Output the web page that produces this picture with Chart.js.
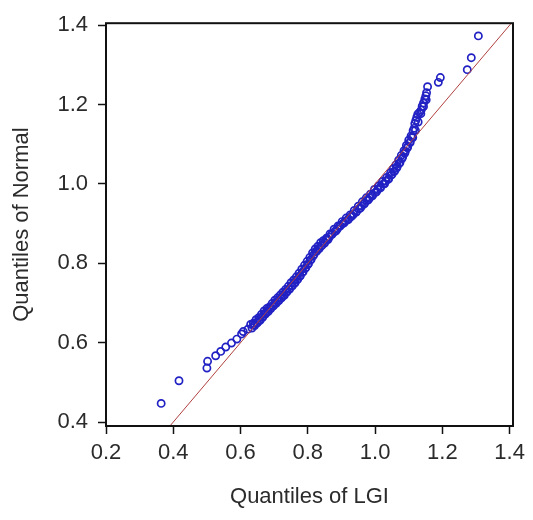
<!DOCTYPE html>
<html>
<head>
<meta charset="utf-8">
<script src="https://cdn.jsdelivr.net/npm/chart.js@4.4.0/dist/chart.umd.min.js"></script>
<style>
  body { margin: 0; background: #fff; }
  #wrap { width: 533px; height: 520px; }
</style>
</head>
<body>
<div id="wrap"><canvas id="myChart" width="533" height="520"></canvas></div>
<script>
// Datos (cuantiles LGI vs cuantiles normales)

let lgi = [
  0.364, 0.417, 0.500, 0.502, 0.526, 0.541, 0.556, 0.573, 0.589, 0.603,
  0.608, 0.622,
  0.630, 0.634, 0.638, 0.642, 0.646, 0.650, 0.654, 0.658, 0.662, 0.666,
  0.670, 0.674, 0.678, 0.682, 0.686, 0.690, 0.694, 0.698, 0.702, 0.706,
  0.710, 0.714, 0.718, 0.722, 0.726, 0.730, 0.734, 0.738, 0.742, 0.746,
  0.750, 0.754, 0.758, 0.762, 0.766, 0.770, 0.774, 0.778, 0.782, 0.786,
  0.790, 0.794, 0.798, 0.802, 0.806, 0.810, 0.814, 0.818, 0.822, 0.826,
  0.830, 0.834, 0.838, 0.842, 0.846, 0.850, 0.855, 0.860, 0.866, 0.872,
  0.878, 0.884, 0.890, 0.896, 0.902, 0.908, 0.914, 0.920, 0.926, 0.932,
  0.938, 0.944, 0.950, 0.956, 0.962, 0.968, 0.974, 0.980, 0.986, 0.992,
  0.998, 1.004, 1.010, 1.016, 1.022, 1.028, 1.034, 1.040, 1.046, 1.050,
  1.054, 1.058, 1.062, 1.066, 1.070, 1.074, 1.078, 1.082, 1.086, 1.090,
  1.093, 1.097, 1.100, 1.104, 1.107, 1.110, 1.113, 1.116, 1.118, 1.121,
  1.124, 1.127, 1.132, 1.137, 1.140, 1.144, 1.148, 1.151, 1.153, 1.156,
  1.188, 1.194, 1.274, 1.286, 1.307
];

let normal = [
  0.447, 0.504, 0.536, 0.553, 0.567, 0.578, 0.589, 0.599, 0.609, 0.622,
  0.628, 0.634,
  0.646, 0.637, 0.649, 0.643, 0.658, 0.650, 0.663, 0.656, 0.671, 0.664,
  0.680, 0.672, 0.686, 0.678, 0.690, 0.686, 0.699, 0.693, 0.707, 0.699,
  0.713, 0.706, 0.720, 0.713, 0.727, 0.719, 0.734, 0.728, 0.742, 0.735,
  0.751, 0.743, 0.758, 0.751, 0.766, 0.760, 0.775, 0.769, 0.785, 0.779,
  0.795, 0.789, 0.805, 0.799, 0.815, 0.810, 0.826, 0.822, 0.836, 0.830,
  0.843, 0.837, 0.852, 0.845, 0.857, 0.851, 0.863, 0.860, 0.874, 0.874,
  0.886, 0.882, 0.894, 0.895, 0.905, 0.902, 0.914, 0.910, 0.922, 0.920,
  0.933, 0.929, 0.944, 0.939, 0.955, 0.950, 0.965, 0.960, 0.974, 0.970,
  0.986, 0.980, 0.995, 0.990, 1.006, 1.000, 1.016, 1.012, 1.028, 1.024,
  1.038, 1.032, 1.048, 1.044, 1.060, 1.054, 1.072, 1.068, 1.084, 1.082,
  1.097, 1.094, 1.110, 1.106, 1.121, 1.118, 1.134, 1.140, 1.152, 1.160,
  1.168, 1.176, 1.180, 1.186, 1.196, 1.204, 1.214, 1.222, 1.230, 1.245,
  1.256, 1.268, 1.288, 1.318, 1.373
];

// puntos del centro de la banda densa (se superponen)
let lgiCentro = [
  0.640, 0.648, 0.656, 0.664, 0.672, 0.680, 0.688, 0.696, 0.704, 0.712,
  0.720, 0.728, 0.736, 0.744, 0.752, 0.760, 0.768, 0.776, 0.784, 0.792,
  0.800, 0.808, 0.816, 0.824, 0.832, 0.840, 0.848, 0.856, 0.864, 0.872,
  0.880, 0.888, 0.896, 0.904, 0.912, 0.920, 0.928, 0.936, 0.944, 0.952,
  0.960, 0.968, 0.976, 0.984, 0.992, 1.000, 1.008, 1.016, 1.024, 1.032,
  1.040, 1.048, 1.056, 1.064, 1.072, 1.080, 1.088, 1.096, 1.104, 1.112,
  1.120, 1.128, 1.136, 1.144, 1.152
];

let normalCentro = [
  0.645, 0.650, 0.657, 0.665, 0.673, 0.680, 0.686, 0.693, 0.700, 0.706,
  0.713, 0.720, 0.727, 0.735, 0.743, 0.750, 0.758, 0.767, 0.777, 0.787,
  0.797, 0.808, 0.819, 0.830, 0.837, 0.844, 0.852, 0.859, 0.866, 0.873,
  0.880, 0.887, 0.894, 0.900, 0.906, 0.911, 0.917, 0.924, 0.930, 0.937,
  0.944, 0.951, 0.958, 0.965, 0.972, 0.978, 0.986, 0.993, 1.000, 1.007,
  1.014, 1.022, 1.031, 1.040, 1.052, 1.064, 1.077, 1.091, 1.104, 1.117,
  1.135, 1.156, 1.177, 1.195, 1.212
];

// recta de referencia y = x
let recta = [0.39, 1.41];

let xTicks = [0.2, 0.4, 0.6, 0.8, 1.0, 1.2, 1.4];
let yTicks = [0.4, 0.6, 0.8, 1.0, 1.2, 1.4];

let puntos = lgi.map((v, i) => ({ x: v, y: normal[i] }))
  .concat(lgiCentro.map((v, i) => ({ x: v, y: normalCentro[i] })));
let linea = recta.map(v => ({ x: v, y: v }));

// Caja alrededor del area del grafico
const caja = {
  id: 'caja',
  afterDraw(chart) {
    const a = chart.chartArea;
    const c = chart.ctx;
    c.save();
    c.strokeStyle = '#111';
    c.lineWidth = 2;
    c.strokeRect(a.left, a.top, a.right - a.left, a.bottom - a.top);
    c.restore();
  }
};

const fuente = { family: 'Liberation Sans, Arial, sans-serif', size: 22 };

const ctx = document.getElementById('myChart').getContext('2d');
const myChart = new Chart(ctx, {
  type: 'scatter',
  data: {
    datasets: [{
      label: 'Recta',
      type: 'line',
      data: linea,
      borderColor: '#b04040',
      borderWidth: 1,
      pointRadius: 0,
      order: 1
    }, {
      label: 'Cuantiles',
      data: puntos,
      pointStyle: 'circle',
      pointRadius: 3.6,
      pointBorderWidth: 1.7,
      pointBackgroundColor: 'rgba(0,0,0,0)',
      borderColor: '#2222c4',
      pointBorderColor: '#2222c4',
      order: 2
    }]
  },
  plugins: [caja],
  options: {
    responsive: false,
    animation: false,
    layout: { padding: { top: 18, right: 20, left: 0, bottom: 0 } },
    plugins: {
      legend: { display: false },
      tooltip: { enabled: false }
    },
    scales: {
      x: {
        type: 'linear',
        min: 0.2,
        max: 1.41,
        afterBuildTicks: s => { s.ticks = xTicks.map(v => ({ value: v })); },
        afterFit: s => { s.height = 94; },
        grid: { display: true, drawOnChartArea: false, drawTicks: true, tickLength: 8, tickColor: '#111', tickWidth: 1.5 },
        border: { display: false },
        ticks: {
          color: '#2b2b2b',
          font: fuente,
          padding: 6,
          maxRotation: 0,
          callback: v => v.toFixed(1)
        },
        title: {
          display: true,
          text: 'Quantiles of LGI',
          color: '#2b2b2b',
          font: fuente,
          padding: { top: 0, bottom: 10 }
        }
      },
      y: {
        type: 'linear',
        min: 0.39,
        max: 1.405,
        afterBuildTicks: s => { s.ticks = yTicks.map(v => ({ value: v })); },
        afterFit: s => { s.width = 106; },
        grid: { display: true, drawOnChartArea: false, drawTicks: true, tickLength: 8, tickColor: '#111', tickWidth: 1.5 },
        border: { display: false },
        ticks: {
          color: '#2b2b2b',
          font: fuente,
          padding: 10,
          callback: v => v.toFixed(1)
        },
        title: {
          display: true,
          text: 'Quantiles of Normal',
          color: '#2b2b2b',
          font: fuente,
          padding: { top: 9, bottom: 0 }
        }
      }
    }
  }
});
</script>
</body>
</html>
